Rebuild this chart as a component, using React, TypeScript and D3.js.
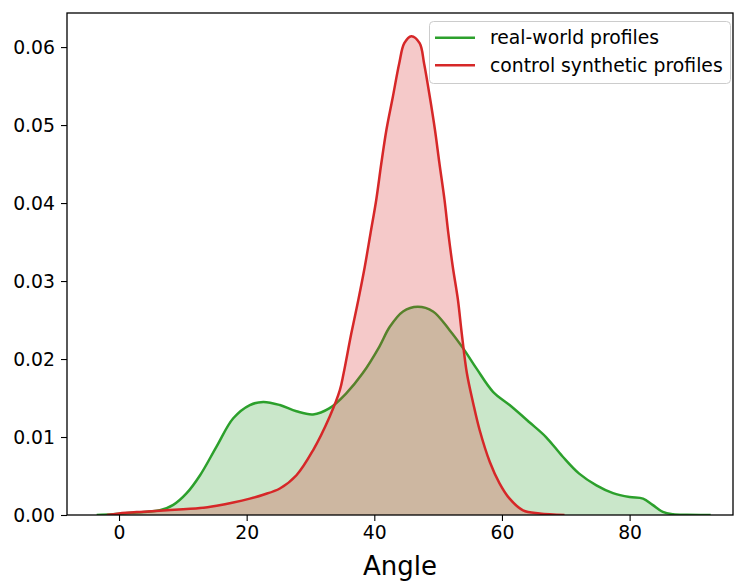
import React, { useEffect, useRef } from "react";
import * as d3 from "d3";

// real-world profiles (green)
const realAngle = [
  -3.5, -1, 2.2, 6.4, 8.5, 10.6, 12.7, 15.3, 17.9, 20.5, 22.6, 25.2, 27.8, 30.4, 33.0, 35.6, 38.2, 40.8,
  42.4, 44.5, 46.8, 49.2, 51.8, 53.9, 56.0, 58.6, 61.2, 64.3, 66.9, 69.5, 72.1, 74.8, 77.4, 80.0, 82.1,
  83.6, 85.2, 86.8, 89, 92.7,
];
const realDensity = [
  0, 0.0001, 0.0003, 0.0006, 0.0013, 0.0028, 0.0051, 0.0088, 0.0124, 0.0141, 0.0145, 0.0141, 0.0133,
  0.0129, 0.0137, 0.0156, 0.0182, 0.0216, 0.0241, 0.0261, 0.0267, 0.0261, 0.0237, 0.0214, 0.0188, 0.0158,
  0.0141, 0.0119, 0.01, 0.0075, 0.0053, 0.0038, 0.0028, 0.0023, 0.0021, 0.0013, 0.0004, 0.0001, 0.00002, 0,
];

// control synthetic profiles (red)
const synthAngle = [
  -1.9, 0, 3.3, 7.5, 12.7, 15.3, 17.9, 20.5, 22.6, 25.2, 27.8, 30.4, 33.0, 34.6, 35.2, 36.4, 37.5, 38.5,
  39.4, 40.3, 41.1, 41.9, 42.9, 43.9, 44.7, 45.8, 47.1, 47.8, 48.7, 49.5, 50.2, 51.0, 51.6, 52.3, 53.1,
  53.7, 54.5, 55.5, 56.5, 58.1, 59.6, 61.2, 63.3, 65.9, 69.8,
];
const synthDensity = [
  0, 0.0002, 0.0004, 0.0006, 0.0009, 0.0012, 0.0016, 0.0021, 0.0026, 0.0034, 0.0051, 0.0083, 0.0126,
  0.016, 0.0182, 0.0233, 0.0276, 0.0318, 0.0361, 0.0404, 0.0451, 0.0494, 0.0536, 0.0579, 0.0605, 0.0614,
  0.0605, 0.0579, 0.0536, 0.0494, 0.0451, 0.0404, 0.0361, 0.0318, 0.0276, 0.0233, 0.0182, 0.0143, 0.0109,
  0.0068, 0.0041, 0.0021, 0.0006, 0.0002, 0,
];

const xTicks = [0, 20, 40, 60, 80];
const yTicks = [0, 0.01, 0.02, 0.03, 0.04, 0.05, 0.06];
const legendLabels = ["real-world profiles", "control synthetic profiles"];

export default function App() {
  const ref = useRef<SVGSVGElement>(null);

  useEffect(() => {
    const svg = d3.select(ref.current);
    svg.selectAll("*").remove();

    const width = 734;
    const height = 583;
    const margin = { top: 13, right: 1, bottom: 68, left: 67 };
    const font = "DejaVu Sans, sans-serif";
    const tickFont = 18.8;

    const x = d3.scaleLinear().domain([-8.15, 96.2]).range([margin.left, width - margin.right]);
    const y = d3.scaleLinear().domain([0, 0.06437]).range([height - margin.bottom, margin.top]);

    const series = [
      { xs: realAngle, ys: realDensity, color: "#2ca02c" },
      { xs: synthAngle, ys: synthDensity, color: "#d62728" },
    ];

    const curve = d3.curveCatmullRom.alpha(0.5);
    const area = d3
      .area<[number, number]>()
      .x((d) => x(d[0]))
      .y0(y(0))
      .y1((d) => y(d[1]))
      .curve(curve);
    const line = d3
      .line<[number, number]>()
      .x((d) => x(d[0]))
      .y((d) => y(d[1]))
      .curve(curve);

    // keep the kde fills inside the plot area
    svg
      .append("clipPath")
      .attr("id", "plot-clip")
      .append("rect")
      .attr("x", margin.left)
      .attr("y", margin.top)
      .attr("width", width - margin.right - margin.left)
      .attr("height", height - margin.bottom - margin.top);
    const plot = svg.append("g").attr("clip-path", "url(#plot-clip)");

    series.forEach((s) => {
      const pts = s.xs.map((v, i) => [v, s.ys[i]] as [number, number]);
      plot.append("path").attr("d", area(pts)).attr("fill", s.color).attr("fill-opacity", 0.25);
      plot
        .append("path")
        .attr("d", line(pts))
        .attr("fill", "none")
        .attr("stroke", s.color)
        .attr("stroke-width", 2.5)
        .attr("stroke-linejoin", "round");
    });

    // x axis
    const xAxis = svg
      .append("g")
      .attr("transform", `translate(0,${height - margin.bottom})`)
      .call(d3.axisBottom(x).tickValues(xTicks).tickSize(6).tickPadding(5).tickSizeOuter(0));
    xAxis.select(".domain").remove();
    xAxis.selectAll("text").attr("font-family", font).attr("font-size", tickFont).attr("fill", "#000");
    xAxis.selectAll("line").attr("stroke", "#000").attr("stroke-width", 1.1);

    // y axis
    const yAxis = svg
      .append("g")
      .attr("transform", `translate(${margin.left},0)`)
      .call(
        d3
          .axisLeft(y)
          .tickValues(yTicks)
          .tickFormat(d3.format(".2f"))
          .tickSize(6)
          .tickPadding(6)
          .tickSizeOuter(0)
      );
    yAxis.select(".domain").remove();
    yAxis.selectAll("text").attr("font-family", font).attr("font-size", tickFont).attr("fill", "#000");
    yAxis.selectAll("line").attr("stroke", "#000").attr("stroke-width", 1.1);

    // frame
    svg
      .append("rect")
      .attr("x", margin.left)
      .attr("y", margin.top)
      .attr("width", width - margin.right - margin.left)
      .attr("height", height - margin.bottom - margin.top)
      .attr("fill", "none")
      .attr("stroke", "#000")
      .attr("stroke-width", 1.3);

    svg
      .append("text")
      .attr("x", (x(-8.15) + x(96.2)) / 2)
      .attr("y", 575)
      .attr("text-anchor", "middle")
      .attr("font-family", font)
      .attr("font-size", 26)
      .text("Angle");

    // legend
    const lg = svg.append("g");
    lg.append("rect")
      .attr("x", 429.5)
      .attr("y", 21.5)
      .attr("width", 301)
      .attr("height", 62)
      .attr("rx", 4)
      .attr("fill", "#fff")
      .attr("fill-opacity", 0.8)
      .attr("stroke", "#ccc")
      .attr("stroke-width", 1);
    legendLabels.forEach((label, i) => {
      const cy = 37.7 + i * 27.5;
      lg.append("line")
        .attr("x1", 435)
        .attr("x2", 475)
        .attr("y1", cy)
        .attr("y2", cy)
        .attr("stroke", series[i].color)
        .attr("stroke-width", 2.5);
      lg.append("text")
        .attr("x", 490)
        .attr("y", cy)
        .attr("dy", "0.35em")
        .attr("font-family", font)
        .attr("font-size", tickFont)
        .text(label);
    });
  }, []);

  return (
    <svg
      ref={ref}
      width={734}
      height={583}
      style={{ position: "absolute", left: 0, top: 0, background: "#fff" }}
    ></svg>
  );
}
